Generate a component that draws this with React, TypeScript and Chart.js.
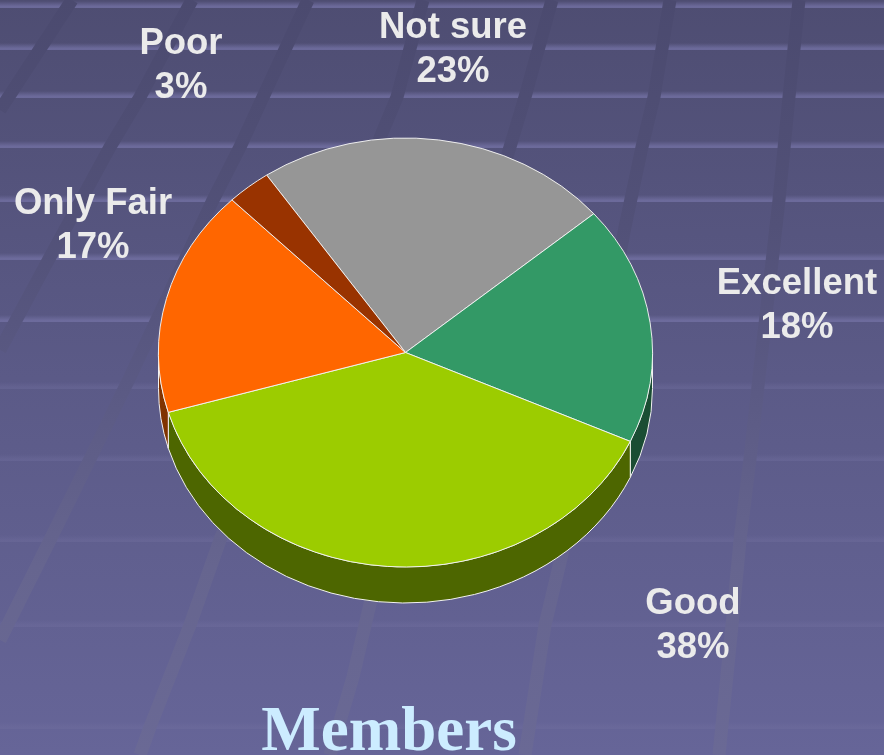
import React, { useEffect, useRef } from "react";
import { Chart, registerables } from "chart.js";

Chart.register(...registerables);

const categories = ["Not sure", "Excellent", "Good", "Only Fair", "Poor"];
const sliceValues = [23.3, 18, 38.7, 17.1, 2.9];
const percentLabels = ["23%", "18%", "38%", "17%", "3%"];
const sliceColours = ["#969696", "#339966", "#9CCC00", "#FF6600", "#993300"];
const sideColours = ["#4b4b4b", "#1a4d33", "#4d6600", "#803300", "#4d1a00"];
const chartTitle = "Members";

const labelCentres = [
  [453, 28],
  [797, 284],
  [693, 604],
  [93, 204],
  [181, 44],
];
const LABEL_LINE = 44;
const SQUASH = 214.5 / 247;
const DEPTH = 36;

const bandRows = [6, 48, 96, 146, 200, 258, 320, 387, 459, 540, 625, 727];
const diagonals = [
  [[72, 0], [0, 110]],
  [[192, 0], [140, 97], [110, 147], [50, 257], [0, 350]],
  [[308, 0], [263, 97], [240, 147], [213, 200], [130, 377], [90, 459], [50, 540], [0, 640]],
  [[423, 0], [397, 97], [382, 133], [220, 540], [190, 625], [150, 727], [140, 755]],
  [[552, 0], [525, 97], [510, 147], [370, 604], [353, 677], [330, 755]],
  [[670, 0], [654, 97], [642, 147], [625, 227], [562, 554], [545, 625], [525, 755]],
  [[799, 0], [789, 97], [779, 200], [759, 377], [750, 459], [740, 540], [732, 625], [719, 755]],
];

const backdrop = {
  id: "backdrop",
  beforeDraw(chart: any) {
    const { ctx, width, height } = chart;
    ctx.save();
    const bg = ctx.createLinearGradient(0, 0, 0, height);
    bg.addColorStop(0, "#4e4d72");
    bg.addColorStop(0.5, "#5b5a87");
    bg.addColorStop(1, "#666598");
    ctx.fillStyle = bg;
    ctx.fillRect(0, 0, width, height);

    for (const y of bandRows) {
      const band = ctx.createLinearGradient(0, y - 5, 0, y + 2);
      const glow = y < 330 ? "rgba(112,110,160,0.85)" : "rgba(112,110,158,0.4)";
      band.addColorStop(0, "rgba(112,110,160,0)");
      band.addColorStop(0.75, glow);
      band.addColorStop(1, glow);
      ctx.fillStyle = band;
      ctx.fillRect(0, y - 5, width, 7);
    }

    const stripe = ctx.createLinearGradient(0, 0, 0, height);
    stripe.addColorStop(0, "#4b4a6f");
    stripe.addColorStop(0.3, "#525178");
    stripe.addColorStop(0.5, "#5a5983");
    stripe.addColorStop(0.75, "#66658f");
    stripe.addColorStop(1, "#6a6995");
    ctx.strokeStyle = stripe;
    ctx.lineWidth = 13;
    ctx.lineCap = "butt";
    ctx.lineJoin = "round";
    for (const line of diagonals) {
      ctx.beginPath();
      line.forEach(([x, y], i) => (i ? ctx.lineTo(x, y) : ctx.moveTo(x, y)));
      ctx.stroke();
    }
    ctx.restore();
  },
};

const squashedPie = {
  id: "squashedPie",
  beforeDatasetsDraw(chart: any) {
    const { ctx } = chart;
    const arcs = chart.getDatasetMeta(0).data;
    const cx = arcs[0].x;
    const cy = arcs[0].y;
    ctx.save();
    ctx.lineWidth = 1;
    ctx.strokeStyle = "#f2f2f2";
    arcs.forEach((arc: any, i: number) => {
      const rx = arc.outerRadius;
      const ry = rx * SQUASH;
      for (const shift of [0, Math.PI * 2, -Math.PI * 2]) {
        const a0 = Math.max(arc.startAngle + shift, 0);
        const a1 = Math.min(arc.endAngle + shift, Math.PI);
        if (a1 <= a0) continue;
        ctx.beginPath();
        ctx.ellipse(cx, cy, rx, ry, 0, a0, a1);
        ctx.lineTo(cx + rx * Math.cos(a1), cy + ry * Math.sin(a1) + DEPTH);
        ctx.ellipse(cx, cy + DEPTH, rx, ry, 0, a1, a0, true);
        ctx.closePath();
        ctx.fillStyle = sideColours[i];
        ctx.fill();
        ctx.stroke();
      }
    });
    ctx.restore();
    ctx.save();
    ctx.translate(cx, cy);
    ctx.scale(1, SQUASH);
    ctx.translate(-cx, -cy);
  },
  afterDatasetsDraw(chart: any) {
    chart.ctx.restore();
  },
  afterDraw(chart: any) {
    const { ctx } = chart;
    ctx.save();
    ctx.textAlign = "center";
    ctx.textBaseline = "middle";
    ctx.fillStyle = "#ebebeb";
    ctx.font = 'bold 36.5px "Liberation Sans", Arial, sans-serif';
    categories.forEach((name, i) => {
      const [x, y] = labelCentres[i];
      ctx.fillText(name, x, y);
      ctx.fillText(percentLabels[i], x, y + LABEL_LINE);
    });
    ctx.textBaseline = "alphabetic";
    ctx.font = 'bold 63px "Liberation Serif", "Times New Roman", serif';
    ctx.fillStyle = "#CCECFF";
    ctx.fillText(chartTitle, 389, 750);
    ctx.restore();
  },
};

export default function App() {
  const ref = useRef<HTMLCanvasElement | null>(null);
  useEffect(() => {
    if (!ref.current) return;
    const chart = new Chart(ref.current, {
      type: "pie",
      data: {
        labels: categories,
        datasets: [
          {
            data: sliceValues,
            backgroundColor: sliceColours,
            borderColor: "#f4f4f4",
            borderWidth: 1,
            clip: false,
          } as any,
        ],
      },
      options: {
        responsive: false,
        animation: false,
        rotation: -34.2,
        layout: { padding: { left: 158, right: 231, top: 105, bottom: 155 } },
        plugins: { legend: { display: false }, title: { display: false }, tooltip: { enabled: false } },
      },
      plugins: [backdrop, squashedPie],
    });
    return () => chart.destroy();
  }, []);
  return (
    <canvas
      ref={ref}
      width={884}
      height={755}
      style={{ position: "absolute", left: 0, top: 0, width: 884, height: 755, display: "block" }}
    />
  );
}
